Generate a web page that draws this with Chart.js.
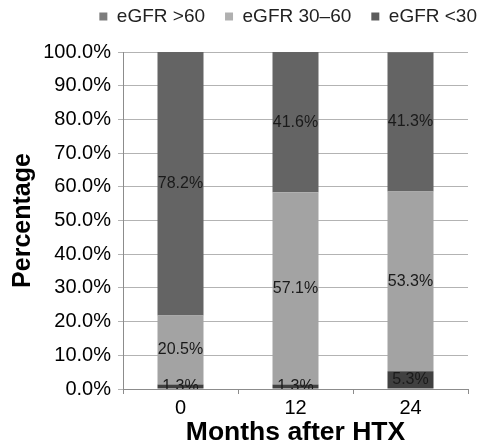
<!DOCTYPE html>
<html>
<head>
<meta charset="utf-8">
<script src="https://cdn.jsdelivr.net/npm/chart.js@4"></script>
<style>
  html, body { margin: 0; padding: 0; background: #fff; }
  #wrap { width: 479px; height: 447px; }
</style>
</head>
<body>
<div id="wrap"><canvas id="c" width="479" height="447"></canvas></div>
<script>
const categories = ['0', '12', '24'];
const seriesNames = ['eGFR >60', 'eGFR 30\u201360', 'eGFR <30'];
const gfrAbove60 = [1.3, 1.3, 5.3];
const gfr30to60 = [20.5, 57.1, 53.3];
const gfrBelow30 = [78.2, 41.6, 41.3];
const yTicks = [0, 10, 20, 30, 40, 50, 60, 70, 80, 90, 100];

const barColors = ['#404040', '#a3a3a3', '#646464'];
const legendColors = ['#7d7d7d', '#b0b0b0', '#5c5c5c'];
const FONT = "'Liberation Sans', Arial, sans-serif";

const labelPlugin = {
  id: 'segLabels',
  afterDatasetsDraw(chart) {
    const ctx = chart.ctx;
    const area = chart.chartArea;
    ctx.save();
    ctx.beginPath();
    ctx.rect(area.left, area.top, area.right - area.left, area.bottom - area.top);
    ctx.clip();
    ctx.font = '16px ' + FONT;
    ctx.fillStyle = '#1a1a1a';
    ctx.textAlign = 'center';
    ctx.textBaseline = 'middle';
    chart.data.datasets.forEach((ds, i) => {
      const meta = chart.getDatasetMeta(i);
      meta.data.forEach((bar, j) => {
        const y = (bar.y + bar.base) / 2;
        ctx.fillText(ds.data[j].toFixed(1) + '%', bar.x, y);
      });
    });
    ctx.restore();
  }
};

const legendShift = {
  id: 'legendShift',
  afterLayout(chart) {
    const l = chart.legend;
    if (l) {
      l.top -= 16; l.bottom -= 16;
      l.left += 20; l.right += 20;
    }
  }
};

new Chart(document.getElementById('c'), {
  type: 'bar',
  data: {
    labels: categories,
    datasets: [
      { label: seriesNames[0], data: gfrAbove60, backgroundColor: barColors[0] },
      { label: seriesNames[1], data: gfr30to60, backgroundColor: barColors[1] },
      { label: seriesNames[2], data: gfrBelow30, backgroundColor: barColors[2] }
    ]
  },
  options: {
    responsive: false,
    animation: false,
    devicePixelRatio: 1,
    layout: { padding: { left: 0, right: 2, top: -12, bottom: 0 } },
    datasets: { bar: { barPercentage: 0.4, categoryPercentage: 1.0, borderWidth: 0 } },
    plugins: {
      tooltip: { enabled: false },
      legend: {
        position: 'top',
        align: 'end',
        labels: {
          boxWidth: 8,
          boxHeight: 8,
          padding: 20,
          color: '#222',
          font: { size: 19, family: FONT },
          generateLabels(chart) {
            const items = Chart.defaults.plugins.legend.labels.generateLabels(chart);
            items.forEach((it, i) => { it.fillStyle = legendColors[i]; it.strokeStyle = legendColors[i]; it.lineWidth = 0; });
            return items;
          }
        }
      }
    },
    scales: {
      x: {
        stacked: true,
        grid: { drawOnChartArea: false, drawTicks: true, tickLength: 5, color: '#8c8c8c' },
        border: { color: '#8c8c8c' },
        ticks: { font: { size: 20, family: FONT }, color: '#000', padding: 2 },
        title: { display: true, text: 'Months after HTX', color: '#000', font: { size: 26.5, weight: 'bold', family: FONT, lineHeight: 1.05 }, padding: 0 },
        afterFit(scale) { scale.height = 58; scale.paddingRight = 11; }
      },
      y: {
        stacked: true,
        min: 0,
        max: 100,
        afterBuildTicks(scale) { scale.ticks = yTicks.map(v => ({ value: v })); },
        ticks: {
          font: { size: 20, family: FONT },
          color: '#000',
          padding: 7,
          callback: v => v.toFixed(1) + '%'
        },
        grid: { color: '#b3b3b3', tickLength: 5, drawTicks: true },
        border: { color: '#8c8c8c' },
        title: { display: true, text: 'Percentage', color: '#000', font: { size: 25, weight: 'bold', family: FONT }, padding: { top: 8, bottom: 0 } },
        afterFit(scale) { scale.width = 123; scale.paddingTop = 52; }
      }
    }
  },
  plugins: [labelPlugin, legendShift]
});
</script>
</body>
</html>
